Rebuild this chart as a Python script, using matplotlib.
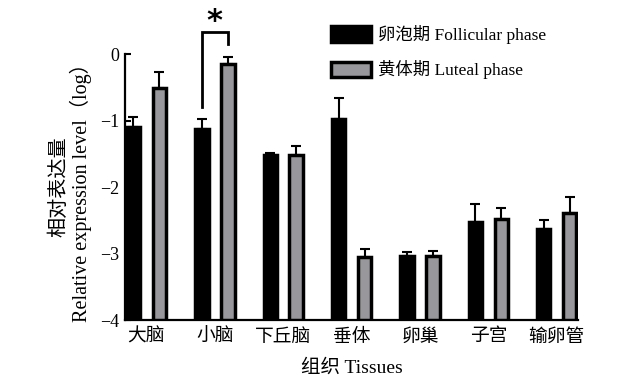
import numpy as np
import matplotlib.pyplot as plt
from matplotlib.patches import Patch

plt.rcParams['font.family'] = ['Liberation Serif', 'Noto Sans CJK SC']
plt.rcParams['axes.unicode_minus'] = True

tissues = ['大脑', '小脑', '下丘脑', '垂体', '卵巢', '子宫', '输卵管']
follicular = [-1.10, -1.13, -1.52, -0.97, -3.04, -2.52, -2.63]
follicular_err = [0.16, 0.16, 0.04, 0.31, 0.07, 0.26, 0.13]
luteal = [-0.51, -0.14, -1.52, -3.05, -3.04, -2.48, -2.39]
luteal_err = [0.24, 0.10, 0.14, 0.12, 0.08, 0.17, 0.24]

BASE = -4
offset = 0.19
width = 0.196
gray = '#98989c'

fig = plt.figure(figsize=(6.25, 3.82), dpi=100)
ax = fig.add_axes([0.2, 0.162, 0.725, 0.696])

x = np.arange(len(tissues))
f = np.array(follicular)
l = np.array(luteal)

ax.bar(x - offset, f - BASE, width, bottom=BASE, color='black',
       edgecolor='black', linewidth=2.5, zorder=3)
ax.bar(x + offset, l - BASE, width, bottom=BASE, color=gray,
       edgecolor='black', linewidth=2.5, zorder=3)
ax.errorbar(x - offset, f, yerr=[np.zeros_like(f), follicular_err],
            fmt='none', ecolor='black', elinewidth=1.5, capsize=3.5,
            capthick=1.5, zorder=2)
ax.errorbar(x + offset, l, yerr=[np.zeros_like(l), luteal_err],
            fmt='none', ecolor='black', elinewidth=1.5, capsize=3.5,
            capthick=1.5, zorder=2)

# significance bracket over 小脑
i = 1
top = 0.33
ax.plot([i - offset, i - offset, i + offset, i + offset],
        [f[i] + follicular_err[i] + 0.18, top, top, l[i] + luteal_err[i] + 0.2],
        color='black', linewidth=2, clip_on=False, solid_joinstyle='miter')
ax.text(i, 0.5, '*', ha='center', va='center', fontsize=22,
        fontweight='bold', family='DejaVu Sans', clip_on=False)

ax.set_xlim(-offset - 0.124, len(tissues) - 1 + offset + 0.124)
ax.set_ylim(-4, 0)
ax.set_yticks([0, -1, -2, -3, -4])
ax.set_yticklabels(['0', '\u22121', '\u22122', '\u22123', '\u22124'])
ax.set_xticks(x)
ax.set_xticklabels(tissues)

for side in ['top', 'right']:
    ax.spines[side].set_visible(False)
for side in ['left', 'bottom']:
    ax.spines[side].set_linewidth(1.6)
ax.tick_params(axis='y', direction='in', length=4, width=1.5, pad=4, labelsize=13)
ax.tick_params(axis='x', length=0, pad=6, labelsize=13.5)

ax.set_xlabel('组织 Tissues', fontsize=14, labelpad=10)
ax.set_ylabel('相对表达量\nRelative expression level（log）', fontsize=14.5,
              labelpad=6, linespacing=1.0)

handles = [Patch(facecolor='black', edgecolor='black', linewidth=2.5),
           Patch(facecolor=gray, edgecolor='black', linewidth=2.5)]
fig.legend(handles, ['卵泡期 Follicular phase', '黄体期 Luteal phase'],
           loc='upper left', bbox_to_anchor=(0.53, 0.935), frameon=False,
           fontsize=12.5, handlelength=2.3, handleheight=1.0,
           handletextpad=0.4, labelspacing=0.95, borderpad=0, borderaxespad=0)

fig.savefig('out.png', dpi=100, facecolor='white')
